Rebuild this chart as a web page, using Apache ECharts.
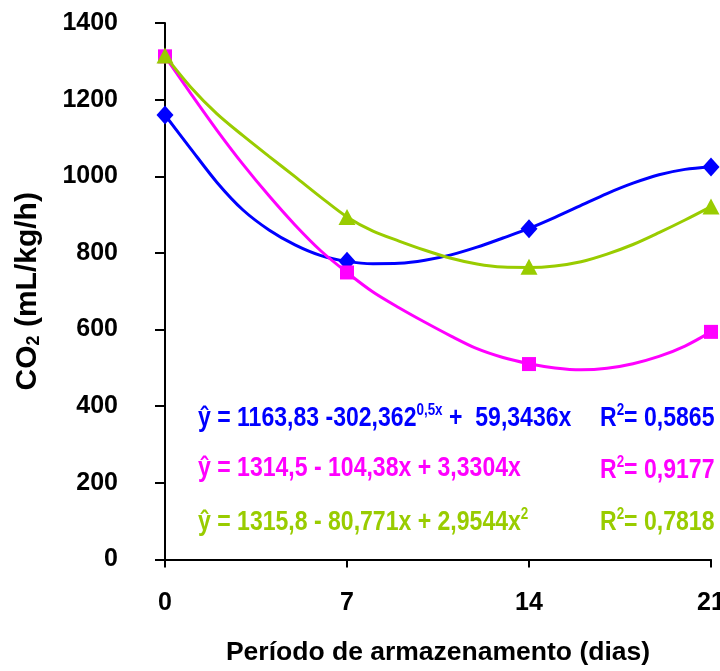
<!DOCTYPE html>
<html>
<head>
<meta charset="utf-8">
<script src="https://cdn.jsdelivr.net/npm/echarts@6/dist/echarts.min.js"></script>
<style>html,body{margin:0;padding:0;background:#fff}#c{width:720px;height:671px}</style>
</head>
<body>
<div id="c"></div>
<script>
// Measured points
const days = [0, 7, 14, 21];
const blueVals = [1160, 778, 863, 1024];
const magentaVals = [1313, 749, 510, 594];
const greenVals = [1315, 894, 764, 921];
// Smoothed curves, one reading per day (0..21)
const curveDays = [0, 1, 2, 3, 4, 5, 6, 7, 8, 9, 10, 11, 12, 13, 14, 15, 16, 17, 18, 19, 20, 21];
const blueCurveVals = [1160, 1071, 984, 912, 860, 821, 793, 778, 772, 773, 781, 795, 815, 839, 864, 893, 924, 955, 982, 1004, 1018, 1025];
const magentaCurveVals = [1313, 1215, 1120, 1031, 949, 873, 805, 749, 698, 657, 619, 583, 550, 527, 511, 500, 495, 499, 511, 530, 557, 594];
const greenCurveVals = [1315, 1232, 1163, 1106, 1052, 999, 945, 894, 857, 831, 807, 786, 771, 763, 762, 766, 777, 797, 822, 853, 886, 921];
const yTicks = [0, 200, 400, 600, 800, 1000, 1200, 1400];
const xTicks = [0, 7, 14, 21];

const FONT = '"Liberation Sans", Arial, sans-serif';
const BLUE = '#0000FF', MAG = '#FF00FF', GRN = '#99CC00';

const chart = echarts.init(document.getElementById('c'), null, {renderer: 'canvas'});
function pairs(xs, vs) { return xs.map((d, i) => [d, vs[i]]); }
function curve(name, vs, color) {
  return {
    name: name + ' curve', type: 'line', data: pairs(curveDays, vs), smooth: 0.3,
    symbol: 'none', lineStyle: {color, width: 3}, clip: false, z: 2
  };
}
function marks(name, vs, color, symbol, size) {
  return {
    name, type: 'scatter', data: pairs(days, vs), symbol, symbolSize: size,
    itemStyle: {color, opacity: 1}, clip: false, z: 4
  };
}
function eqText(x, y, rich, color) {
  return {
    type: 'text', x, y, scaleX: 0.96, scaleY: 1.15,
    style: {
      text: rich, fill: color, font: 'bold 24px ' + FONT,
      rich: {
        m: {fontFamily: FONT, fontWeight: 'bold', fontSize: 24, fill: color},
        s: {fontFamily: FONT, fontWeight: 'bold', fontSize: 14, fill: color, verticalAlign: 'top', padding: [0, 0, 12, 0]}
      }
    }
  };
}
chart.setOption({
  animation: false,
  grid: {left: 165, right: 9, top: 23, bottom: 111.5, containLabel: false, outerBoundsMode: 'none'},
  xAxis: {
    type: 'value', min: 0, max: 21, interval: 7,
    axisLine: {lineStyle: {color: '#000', width: 2}},
    axisTick: {show: true, length: 8, lineStyle: {color: '#000', width: 2}},
    splitLine: {show: false},
    axisLabel: {color: '#000', fontFamily: FONT, fontWeight: 'bold', fontSize: 25, margin: 31,
      formatter: v => xTicks.includes(v) ? String(v) : ''},
    name: 'Período de armazenamento (dias)', nameLocation: 'middle', nameGap: 80,
    nameTextStyle: {color: '#000', fontFamily: FONT, fontWeight: 'bold', fontSize: 26.5}
  },
  yAxis: {
    type: 'value', min: 0, max: 1400, interval: 200,
    axisLine: {show: true, lineStyle: {color: '#000', width: 2}},
    axisTick: {show: true, length: 10, lineStyle: {color: '#000', width: 2}},
    splitLine: {show: false},
    axisLabel: {color: '#000', fontFamily: FONT, fontWeight: 'bold', fontSize: 25, margin: 47,
      formatter: v => yTicks.includes(v) ? String(v) : ''},
    name: '{a|CO}{b|2}{a| (mL/kg/h)}', nameLocation: 'middle', nameGap: 122, nameRotate: 90,
    nameTextStyle: {color: '#000', rich: {
      a: {fontFamily: FONT, fontWeight: 'bold', fontSize: 30, color: '#000'},
      b: {fontFamily: FONT, fontWeight: 'bold', fontSize: 18, color: '#000', verticalAlign: 'bottom', padding: [12, 0, 0, 0]}
    }}
  },
  series: [
    curve('blue', blueCurveVals, BLUE),
    curve('magenta', magentaCurveVals, MAG),
    curve('green', greenCurveVals, GRN),
    marks('blue', blueVals, BLUE, 'diamond', [17, 19]),
    marks('magenta', magentaVals, MAG, 'rect', 14),
    marks('green', greenVals, GRN, 'triangle', [17, 16])
  ],
  graphic: [
    eqText(198, 403, '{m|ŷ = 1163,83 -302,362}{s|0,5x}{m| +  59,3436x}', BLUE),
    eqText(600, 403, '{m|R}{s|2}{m|= 0,5865}', BLUE),
    eqText(198, 455, '{m|ŷ = 1314,5 - 104,38x + 3,3304x}', MAG),
    eqText(600, 455, '{m|R}{s|2}{m|= 0,9177}', MAG),
    eqText(198, 507, '{m|ŷ = 1315,8 - 80,771x + 2,9544x}{s|2}', GRN),
    eqText(600, 507, '{m|R}{s|2}{m|= 0,7818}', GRN)
  ]
});
</script>
</body>
</html>
